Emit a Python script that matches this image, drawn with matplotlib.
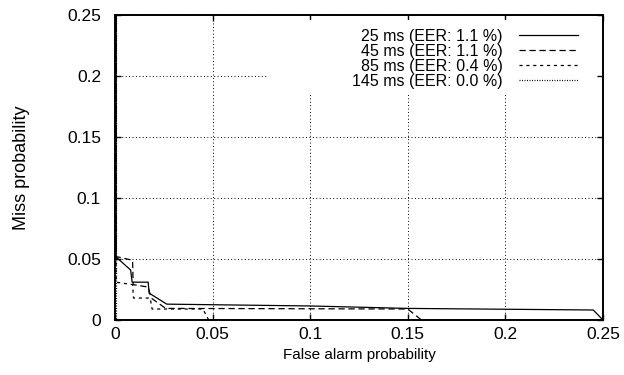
import matplotlib
matplotlib.use("Agg")
import matplotlib.pyplot as plt
from matplotlib.patches import Rectangle

# ---- data ----
labels = ["25 ms (EER: 1.1 %)", "45 ms (EER: 1.1 %)",
          "85 ms (EER: 0.4 %)", "145 ms (EER: 0.0 %)"]

fa_25 = [0.0006, 0.0006, 0.001, 0.008, 0.0088, 0.017, 0.0175, 0.0265, 0.1, 0.15, 0.245, 0.25]
miss_25 = [0.25, 0.052, 0.051, 0.041, 0.031, 0.031, 0.022, 0.013, 0.0115, 0.0095, 0.0082, 0.0]

fa_45 = [0.0006, 0.0006, 0.009, 0.0093, 0.017, 0.0185, 0.026, 0.15, 0.157]
miss_45 = [0.25, 0.052, 0.049, 0.029, 0.027, 0.018, 0.0095, 0.009, 0.0]

fa_85 = [0.0006, 0.0006, 0.009, 0.0095, 0.018, 0.019, 0.045, 0.048]
miss_85 = [0.25, 0.031, 0.029, 0.018, 0.018, 0.009, 0.009, 0.0]

fa_145 = [0.0006, 0.0006, 0.25]
miss_145 = [0.25, 0.0, 0.0]

xticks = [0, 0.05, 0.1, 0.15, 0.2, 0.25]
yticks = [0, 0.05, 0.1, 0.15, 0.2, 0.25]
xticklabels = ["0", "0.05", "0.1", "0.15", "0.2", "0.25"]
yticklabels = ["0", "0.05", "0.1", "0.15", "0.2", "0.25"]

plt.rcParams["font.family"] = ["Liberation Sans", "DejaVu Sans"]

fig = plt.figure(figsize=(6.24, 3.75), dpi=100)
ax = fig.add_axes([115 / 624, 1 - 320 / 375, 488 / 624, 305 / 375])

styles = [
    dict(linestyle="-", linewidth=0.9),
    dict(linestyle=(0, (5, 3)), linewidth=0.9),
    dict(linestyle=(0, (2.5, 3)), linewidth=0.9),
    dict(linestyle=(0, (0.8, 1.2)), linewidth=0.9),
]
series = [(fa_25, miss_25), (fa_45, miss_45), (fa_85, miss_85), (fa_145, miss_145)]
handles = []
for (x, y), st, lab in zip(series, styles, labels):
    h, = ax.plot(x, y, color="black", label=lab, zorder=3, **st)
    handles.append(h)

ax.set_xlim(0, 0.25)
ax.set_ylim(0, 0.25)
ax.set_xticks(xticks)
ax.set_xticklabels(xticklabels)
ax.set_yticks(yticks)
ax.set_yticklabels(yticklabels)
ax.tick_params(direction="in", length=4, width=1, top=True, right=True,
               labelsize=12.5, colors="black")
ax.tick_params(axis="x", pad=5)
ax.tick_params(axis="y", pad=10)
ax.grid(True, color="black", linestyle=(0, (1, 2.5)), linewidth=0.7)
for sp in ax.spines.values():
    sp.set_linewidth(1.4)

# opaque key area (gnuplot key box hides the grid)
ax.add_patch(Rectangle((268 / 624, 1 - 93 / 375), (597 - 268) / 624, (93 - 20) / 375,
                       transform=fig.transFigure, facecolor="white",
                       edgecolor="none", zorder=1.8))

ax.set_xlabel("False alarm probability", fontsize=11, labelpad=4)
ax.set_ylabel("Miss probability", fontsize=13, labelpad=27)

leg = ax.legend(handles=handles, loc="upper right",
                bbox_to_anchor=(578 / 624, 1 - 29 / 375),
                bbox_transform=fig.transFigure, frameon=False,
                markerfirst=False, borderpad=0, borderaxespad=0,
                handlelength=3.7, handletextpad=1.0, labelspacing=0.0,
                fontsize=11.5)
leg.set_zorder(5)

fig.savefig("out.png", dpi=100)
